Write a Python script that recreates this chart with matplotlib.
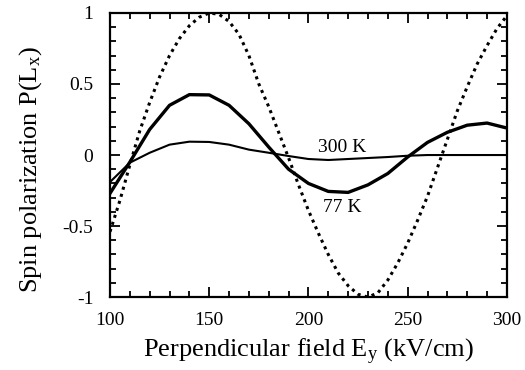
import matplotlib
matplotlib.use('Agg')
import matplotlib.pyplot as plt
from matplotlib.ticker import MultipleLocator

plt.rcParams['font.family'] = ['Liberation Serif', 'DejaVu Serif']
plt.rcParams['mathtext.fontset'] = 'custom'
plt.rcParams['mathtext.rm'] = 'Liberation Serif'
plt.rcParams['mathtext.it'] = 'Liberation Serif:italic'
plt.rcParams['axes.unicode_minus'] = False

# 77 K and 300 K curves, read every 10 kV/cm
field = [100, 110, 120, 130, 140, 150, 160, 170, 180, 190, 200,
         210, 220, 230, 240, 250, 260, 270, 280, 290, 300]
pol_77 = [-0.27, -0.05, 0.18, 0.35, 0.425, 0.423, 0.35, 0.22, 0.056, -0.10, -0.20,
          -0.256, -0.263, -0.21, -0.13, -0.014, 0.089, 0.16, 0.21, 0.225, 0.19]
pol_300 = [-0.19, -0.054, 0.016, 0.073, 0.094, 0.092, 0.073, 0.038, 0.016, -0.007, -0.028,
           -0.035, -0.028, -0.021, -0.014, -0.005, 0.0, 0.0, 0.0, 0.0, 0.0]

# dotted (ideal) curve, read every 5 kV/cm
field_fine = [100, 105, 110, 115, 120, 125, 130, 135, 140, 145, 150, 155, 160, 165,
              170, 175, 180, 185, 190, 195, 200, 205, 210, 215, 220, 225, 230, 235,
              240, 245, 250, 255, 260, 265, 270, 275, 280, 285, 290, 295, 300]
pol_ideal = [-0.54, -0.32, -0.07, 0.17, 0.37, 0.55, 0.70, 0.82, 0.91, 0.97, 1.00, 0.99,
             0.94, 0.85, 0.70, 0.50, 0.34, 0.16, -0.02, -0.21, -0.39, -0.55, -0.70,
             -0.83, -0.92, -0.98, -1.00, -0.97, -0.88, -0.76, -0.62, -0.46, -0.29,
             -0.09, 0.11, 0.31, 0.48, 0.64, 0.77, 0.89, 0.98]

yticks = [-1, -0.5, 0, 0.5, 1]
ytick_labels = ['-1', '-0.5', '0', '0.5', '1']

fig = plt.figure(figsize=(5.25, 3.7), dpi=100)
ax = fig.add_axes([0.2095, 0.197, 0.756, 0.768])

ax.plot(field_fine, pol_ideal, color='black', lw=2.2, linestyle=(0, (1, 1.4)))
ax.plot(field, pol_77, color='black', lw=2.4)
ax.plot(field, pol_300, color='black', lw=1.5)

ax.text(217, 0.05, '300 K', fontsize=14, ha='center', va='center')
ax.text(217, -0.37, '77 K', fontsize=14, ha='center', va='center')

ax.set_xlim(100, 300)
ax.set_ylim(-1, 1)
ax.xaxis.set_major_locator(MultipleLocator(50))
ax.xaxis.set_minor_locator(MultipleLocator(10))
ax.yaxis.set_minor_locator(MultipleLocator(0.1))
ax.set_yticks(yticks)
ax.set_yticklabels(ytick_labels)
ax.tick_params(which='both', direction='in', top=True, right=True, labelsize=14, width=1.3)
ax.tick_params(axis='y', which='major', length=7, pad=12)
ax.tick_params(axis='x', which='major', length=7, pad=11)
ax.tick_params(which='minor', length=4)
for s in ax.spines.values():
    s.set_linewidth(1.6)

ax.set_xlabel(r'Perpendicular field E$_{\rm y}$ (kV/cm)', fontsize=19)
ax.set_ylabel(r'Spin polarization P(L$_{\rm x}$)', fontsize=19)
ax.xaxis.set_label_coords(0.5, -0.14)
ax.yaxis.set_label_coords(-0.165, 0.45)

fig.savefig('out.png', dpi=100)
